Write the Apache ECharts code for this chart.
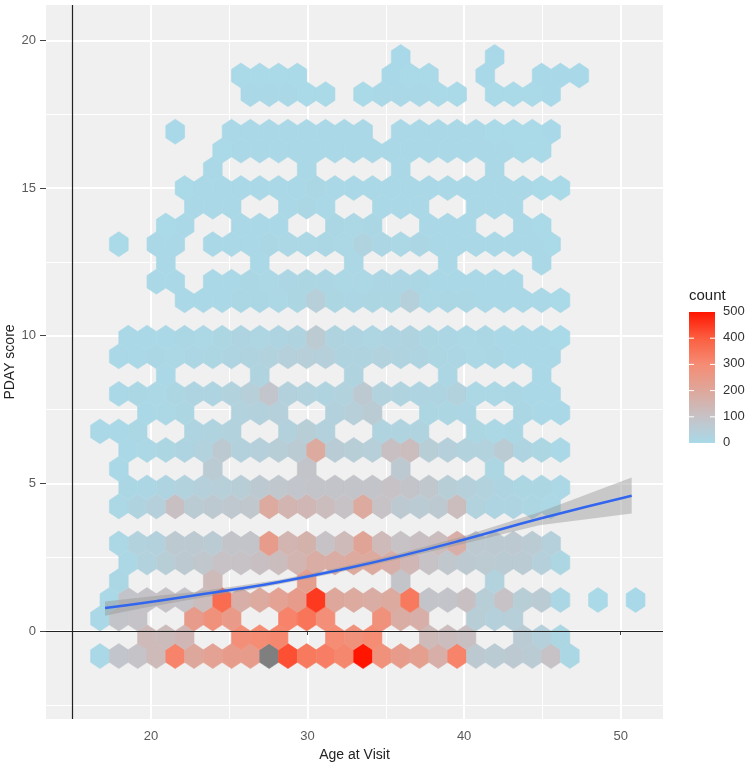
<!DOCTYPE html>
<html>
<head>
<meta charset="utf-8">
<style>
  html, body { margin: 0; padding: 0; background: #fff; }
  #chart { width: 750px; height: 766px; filter: blur(0.5px); }
</style>
<script src="https://cdn.jsdelivr.net/npm/echarts@6/dist/echarts.min.js"></script>
</head>
<body>
<div id="chart"></div>
<script>
const _ = null;

// hex centres
const ageEven = [16.75, 17.95, 19.15, 20.35, 21.55, 22.75, 23.95, 25.15, 26.35, 27.55, 28.75, 29.95, 31.15, 32.35, 33.55, 34.75, 35.95, 37.15, 38.35, 39.55, 40.75, 41.95, 43.15, 44.35, 45.55, 46.75, 47.95, 49.15, 50.35];
const ageOdd = [17.35, 18.55, 19.75, 20.95, 22.15, 23.35, 24.55, 25.75, 26.95, 28.15, 29.35, 30.55, 31.75, 32.95, 34.15, 35.35, 36.55, 37.75, 38.95, 40.15, 41.35, 42.55, 43.75, 44.95, 46.15, 47.35, 48.55, 49.75, 50.95];
const scoreRows = [-0.85, -0.21, 0.42, 1.05, 1.69, 2.32, 2.96, 3.59, 4.22, 4.86, 5.49, 6.13, 6.76, 7.39, 8.03, 8.66, 9.30, 9.93, 10.56, 11.20, 11.83, 12.47, 13.10, 13.73, 14.37, 15.00, 15.64, 16.27, 16.91, 17.54, 18.18, 18.81, 19.44];

// counts per row, bottom row first. 560 is over the scale (the grey hex)
const counts = [
  [5, 85, 95, 130, 320, 200, 220, 240, 240, 560, 420, 340, 330, 310, 500, 280, 240, 230, 170, 320, 70, 60, 70, 60, 100, 8],
  [_, _, 130, 125, 140, _, _, 290, 300, 310, _, _, 300, 280, 300, _, _, 130, 120, 110, _, _, 60, 40, 15],
  [5, 90, 95, _, _, 240, 280, 250, _, _, 320, 350, 290, _, _, 280, 180, 170, _, _, 50, 40, 45],
  [5, 90, 95, 100, 95, 120, 370, 170, 190, 220, 240, 450, 200, 190, 180, 190, 340, 90, 90, 110, 50, 100, 50, 60, 8, _, 2, _, 1],
  [_, 8, _, _, _, _, 130, _, _, _, _, 230, _, _, _, _, 90, _, _, _, _, 30],
  [_, 10, 30, 50, 70, 80, 100, 100, 110, 120, 150, 180, 180, 190, 190, 170, 140, 100, 80, 70, 65, 60, 60, 40, 15],
  [_, 10, 30, 35, 70, 70, 60, 90, 90, 240, 150, 160, 100, 130, 210, 130, 100, 110, 120, 170, 70, 70, 70, 60, 40],
  [],
  [_, 10, 25, 40, 110, 60, 70, 75, 80, 190, 150, 140, 120, 100, 190, 100, 70, 60, 70, 120, 30, 20, 20, 15, 10],
  [_, 8, 12, 20, 30, 40, 45, 50, 70, 80, 85, 90, 90, 90, 90, 100, 90, 80, 50, 40, 30, 20, 15, 15, 10],
  [_, 5, _, _, _, _, 60, _, _, _, _, 90, _, _, _, _, 70, _, _, _, _, 15],
  [_, 5, 10, 15, 20, 30, 70, 35, 40, 50, 60, 190, 55, 50, 45, 110, 120, 50, 40, 30, 30, 60, 20, 15, 5],
  [3, 5, 8, _, _, 20, 25, 30, _, _, 35, 50, 35, _, _, 25, 25, 25, _, _, 15, 10, 8],
  [_, _, 5, 10, 15, _, _, 30, 35, 40, _, _, 35, 45, 60, _, _, 15, 15, 12, _, _, 8, 6, 3],
  [_, 5, 8, 10, 15, 20, 20, 30, 45, 85, 35, 30, 25, 30, 70, 30, 25, 20, 20, 30, 10, 10, 8, 6, 3],
  [_, _, _, 6, _, _, _, _, 25, _, _, _, _, 25, _, _, _, _, 12, _, _, _, _, 4],
  [_, 4, 6, 8, 10, 12, 15, 20, 25, 30, 40, 45, 40, 25, 25, 30, 25, 20, 15, 12, 10, 8, 6, 5, 3],
  [_, 3, 5, 6, 8, 10, 15, 20, 18, 20, 25, 65, 25, 20, 18, 22, 25, 15, 12, 10, 8, 6, 5, 4, 2],
  [],
  [_, _, _, _, 3, 5, 6, 8, 8, 10, 15, 45, 15, 12, 15, 15, 40, 10, 8, 8, 6, 5, 4, 3, 2],
  [_, _, _, 3, 4, _, 5, 6, 8, 10, 12, 15, 12, 10, 10, 12, 12, 8, 6, 6, 5, 4, 3],
  [_, _, _, 3, _, _, _, _, 6, _, _, _, _, 10, _, _, _, _, 5, _, _, _, _, 3],
  [_, 2, _, 3, 4, _, 5, 6, 6, 8, 10, 10, 8, 10, 25, 12, 10, 12, 6, 5, 5, 4, 3, 3, 2],
  [_, _, _, 2, 3, _, _, 5, 6, 6, _, _, 8, 10, 8, _, _, 6, 5, 4, _, _, 3, 2],
  [_, _, _, _, _, 3, 4, 5, _, _, 6, 8, 6, _, _, 6, 6, 5, _, _, 4, 3, 3],
  [_, _, _, _, 2, 3, 4, 4, 5, 6, 6, 8, 6, 6, 6, 6, 6, 5, 5, 4, 4, 3, 3, 2, 2],
  [_, _, _, _, _, _, 3, _, _, _, _, 5, _, _, _, _, 4, _, _, _, _, 3],
  [_, _, _, _, _, _, 2, 3, 4, 4, 5, 5, 5, 5, 5, 5, 4, 4, 4, 3, 3, 3, 2, 2],
  [_, _, _, _, 1, _, _, 3, 3, 3, 4, 4, 4, 4, 4, _, 3, 3, 3, 3, 3, 2, 2, 2, 1],
  [],
  [_, _, _, _, _, _, _, _, 3, 3, 3, 2, 2, _, 2, 3, 3, 3, 2, 2, _, 2, 2, 2, 1],
  [_, _, _, _, _, _, _, 2, 2, 2, 2, _, _, _, _, 1, 2, 2, _, _, 1, _, _, 1, 1, 1],
  [_, _, _, _, _, _, _, _, _, _, _, _, _, _, _, _, 1, _, _, _, _, 1]
];

// loess fit and its band
const fitAge = [17.07, 19.5, 22.93, 25.5, 28.2, 32.05, 35.7, 39.9, 44.8, 50.7];
const fitScore = [0.78, 0.95, 1.22, 1.42, 1.66, 2.07, 2.51, 3.08, 3.8, 4.58];
const fitUpper = [1.0, 1.14, 1.33, 1.52, 1.74, 2.15, 2.6, 3.2, 4.02, 5.2];
const fitLower = [0.52, 0.78, 1.1, 1.32, 1.58, 1.99, 2.42, 2.95, 3.58, 3.98];

const xTicks = [20, 30, 40, 50];
const yTicks = [0, 5, 10, 15, 20];
const xMinor = [25, 35, 45];
const yMinor = [-2.5, 2.5, 7.5, 12.5, 17.5];
const legendTicks = [0, 100, 200, 300, 400, 500];
const rampColors = ["#A9D9E8", "#C6C2C6", "#DEA79B", "#F58C74", "#FB5E40", "#FF1500"];

const HEX_W = 1.2;
const HEX_H = 0.634;
const FONT = '"Liberation Sans", Arial, sans-serif';

const hexData = [];
counts.forEach((row, i) => {
  const ages = i % 2 === 0 ? ageEven : ageOdd;
  row.forEach((c, k) => {
    if (c !== null) hexData.push([ages[k], scoreRows[i], c]);
  });
});

function renderHex(params, api) {
  const c = api.coord([api.value(0), api.value(1)]);
  const s = api.size([HEX_W, HEX_H]);
  const w = s[0] / 2;
  const h = s[1];
  const color = api.visual("color");
  return {
    type: "polygon",
    shape: {
      points: [
        [c[0], c[1] - (h * 2) / 3],
        [c[0] + w, c[1] - h / 3],
        [c[0] + w, c[1] + h / 3],
        [c[0], c[1] + (h * 2) / 3],
        [c[0] - w, c[1] + h / 3],
        [c[0] - w, c[1] - h / 3],
      ],
    },
    style: { fill: color, stroke: color, lineWidth: 0.6 },
  };
}

function renderBand(params, api) {
  const up = fitAge.map((a, i) => api.coord([a, fitUpper[i]]));
  const low = fitAge.map((a, i) => api.coord([a, fitLower[i]])).reverse();
  return {
    type: "polygon",
    shape: { points: up.concat(low) },
    style: { fill: "rgba(150,150,150,0.45)" },
  };
}

// colourbar
const BAR_TOP = 312;
const BAR_BOTTOM = 443;
const BAR_LEFT = 689;
const BAR_RIGHT = 715;
const legendY = (v) => BAR_BOTTOM - ((BAR_BOTTOM - BAR_TOP) * v) / 500;
const legendGraphics = [
  {
    type: "text",
    left: BAR_LEFT,
    top: 288,
    style: { text: "count", font: "15px " + FONT, fill: "#222" },
  },
  {
    type: "rect",
    shape: { x: BAR_LEFT, y: BAR_TOP, width: BAR_RIGHT - BAR_LEFT, height: BAR_BOTTOM - BAR_TOP },
    style: {
      fill: new echarts.graphic.LinearGradient(
        0, 1, 0, 0,
        rampColors.map((color, i) => ({ offset: i / (rampColors.length - 1), color }))
      ),
    },
  },
];
legendTicks.forEach((v) => {
  legendGraphics.push({
    type: "text",
    left: 723,
    top: legendY(v) - 7,
    style: { text: String(v), font: "13px " + FONT, fill: "#333" },
  });
  if (v > 0 && v < 500) {
    legendGraphics.push(
      { type: "line", shape: { x1: BAR_LEFT, y1: legendY(v), x2: BAR_LEFT + 5, y2: legendY(v) }, style: { stroke: "#fff", lineWidth: 1 } },
      { type: "line", shape: { x1: BAR_RIGHT - 5, y1: legendY(v), x2: BAR_RIGHT, y2: legendY(v) }, style: { stroke: "#fff", lineWidth: 1 } }
    );
  }
});

const chart = echarts.init(document.getElementById("chart"));

const option = {
  animation: false,
  backgroundColor: "#fff",
  textStyle: { fontFamily: FONT },
  grid: { left: 46, right: 87, top: 5, bottom: 47, show: true, backgroundColor: "#F0F0F0", borderWidth: 0, outerBoundsMode: "none" },
  xAxis: {
    type: "value",
    min: 13.3,
    max: 52.7,
    name: "Age at Visit",
    nameLocation: "middle",
    nameGap: 29,
    nameMoveOverlap: false,
    nameTextStyle: { fontSize: 14, color: "#222" },
    axisLine: { show: false },
    axisTick: { show: true, length: 4, lineStyle: { color: "#444" }, customValues: xTicks },
    axisLabel: { color: "#5A5A5A", fontSize: 13, margin: 11, customValues: xTicks },
    splitLine: { show: true, lineStyle: { color: "#fff", width: 2 } },
  },
  yAxis: {
    type: "value",
    min: -2.98,
    max: 21.2,
    name: "PDAY score",
    nameLocation: "middle",
    nameGap: 29,
    nameMoveOverlap: false,
    nameTextStyle: { fontSize: 14, color: "#222" },
    axisLine: { show: false },
    axisTick: { show: true, length: 6, lineStyle: { color: "#444" }, customValues: yTicks },
    axisLabel: { color: "#5A5A5A", fontSize: 13, margin: 10, customValues: yTicks },
    splitLine: { show: true, lineStyle: { color: "#fff", width: 2 } },
  },
  visualMap: {
    show: false,
    seriesIndex: 1,
    dimension: 2,
    min: 0,
    max: 500,
    unboundedRange: false,
    range: [0, 500],
    inRange: { color: rampColors },
    outOfRange: { color: "#7F7F7F" },
  },
  graphic: legendGraphics,
  series: [
    {
      // minor grid
      type: "line",
      z: 1,
      data: [],
      silent: true,
      markLine: {
        silent: true,
        z: 1,
        symbol: "none",
        label: { show: false },
        lineStyle: { color: "#fff", width: 1, type: "solid" },
        data: xMinor.map((v) => ({ xAxis: v })).concat(yMinor.map((v) => ({ yAxis: v }))),
      },
    },
    {
      type: "custom",
      z: 2,
      renderItem: renderHex,
      encode: { x: 0, y: 1 },
      data: hexData,
    },
    {
      type: "custom",
      z: 3,
      renderItem: renderBand,
      encode: { x: 0, y: 1 },
      data: [[fitAge[0], fitUpper[0]]],
    },
    {
      type: "line",
      z: 4,
      smooth: true,
      symbol: "none",
      lineStyle: { color: "#3366EE", width: 2.5 },
      data: fitAge.map((a, i) => [a, fitScore[i]]),
    },
    {
      // the two black reference lines
      type: "line",
      z: 5,
      data: [],
      silent: true,
      markLine: {
        silent: true,
        z: 6,
        symbol: "none",
        label: { show: false },
        lineStyle: { color: "#222", width: 1.2, type: "solid" },
        data: [{ xAxis: 15 }, { yAxis: 0 }],
      },
    },
  ],
};

chart.setOption(option);
</script>
</body>
</html>
